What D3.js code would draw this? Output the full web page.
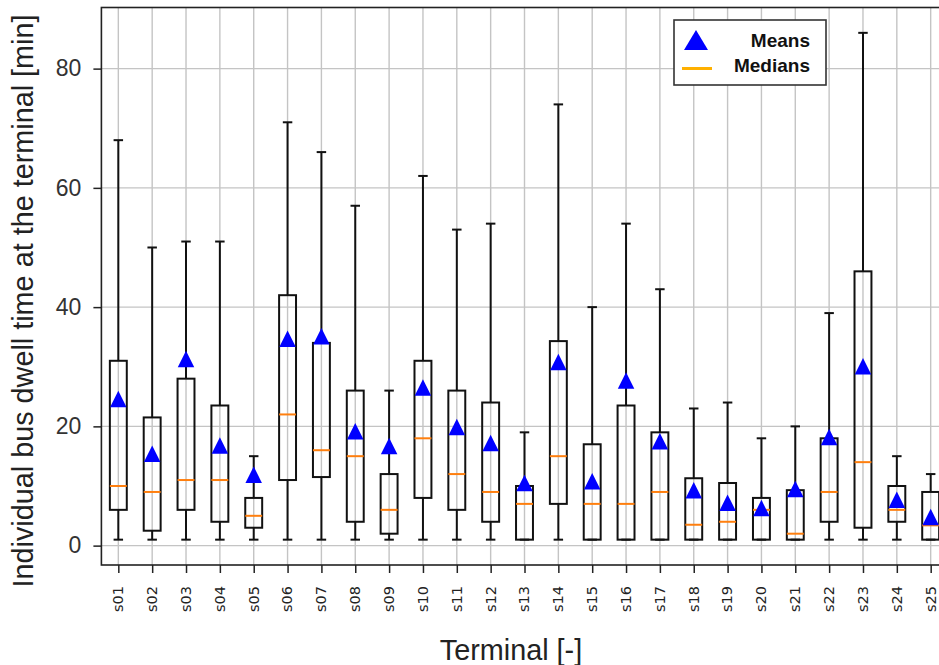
<!DOCTYPE html>
<html>
<head>
<meta charset="utf-8">
<script src="https://cdn.jsdelivr.net/npm/d3@7"></script>
<style>
  html, body { margin: 0; padding: 0; background: #fff; }
  svg { display: block; }
</style>
</head>
<body>
<div id="chart"></div>
<script>
const categories = ["s01","s02","s03","s04","s05","s06","s07","s08","s09","s10","s11","s12","s13","s14","s15","s16","s17","s18","s19","s20","s21","s22","s23","s24","s25"];
const whiskerLow  = [1,1,1,1,1,1,1,1,1,1,1,1,1,1,1,1,1,1,1,1,1,1,1,1,1];
const q1          = [6,2.5,6,4,3,11,11.5,4,2,8,6,4,1,7,1,1,1,1,1,1,1,4,3,4,1];
const medians     = [10,9,11,11,5,22,16,15,6,18,12,9,7,15,7,7,9,3.5,4,6,2,9,14,6,3.4];
const q3          = [31,21.5,28,23.5,8,42,34,26,12,31,26,24,10,34.3,17,23.5,19,11.3,10.5,8,9.3,18,46,10,9];
const whiskerHigh = [68,50,51,51,15,71,66,57,26,62,53,54,19,74,40,54,43,23,24,18,20,39,86,15,12];
const means       = [24.6,15.4,31.3,16.8,11.9,34.7,35.1,19.2,16.7,26.5,19.9,17.2,10.5,30.8,10.8,27.7,17.5,9.3,7.2,6.3,9.5,18.2,30.1,7.7,4.8];
const yTicks = [0,20,40,60,80];
const legendLabels = ["Means","Medians"];
const yLabel = "Individual bus dwell time at the terminal [min]";
const xLabel = "Terminal [-]";

(function () {
const W = 939, H = 665;
const pL = 101.4, pR = 947.6, pT = 7.5, pB = 565;

const svg = d3.select("#chart").append("svg").attr("width", W).attr("height", H);

const x = d3.scaleLinear().domain([0.5, categories.length + 0.5]).range([pL, pR]);
const y = d3.scaleLinear().domain([-3.25, 90.25]).range([pB, pT]);
const xPos = i => x(i + 1);
const dx = x(1) - x(0);

// grid
const grid = svg.append("g");
grid.selectAll("line.v").data(categories).join("line").attr("class", "v")
  .attr("x1", (d,i) => xPos(i)).attr("x2", (d,i) => xPos(i))
  .attr("y1", pT).attr("y2", pB)
  .attr("stroke", "#c4c4c4").attr("stroke-width", 1.4);
grid.selectAll("line.h").data(yTicks).join("line").attr("class", "h")
  .attr("x1", pL).attr("x2", pR)
  .attr("y1", d => y(d)).attr("y2", d => y(d))
  .attr("stroke", "#c4c4c4").attr("stroke-width", 1.4);

// axes
const yAxis = d3.axisLeft(y).tickValues(yTicks).tickSize(8).tickPadding(12);
const gy = svg.append("g").attr("transform", `translate(${pL},0)`).call(yAxis);
gy.select(".domain").remove();
gy.selectAll(".tick line").attr("stroke", "#222").attr("stroke-width", 1.5);
gy.selectAll(".tick text").attr("font-family", "Liberation Sans, Arial, sans-serif")
  .attr("font-size", 23).attr("fill", "#333");

const xAxis = d3.axisBottom(x).tickValues(d3.range(1, categories.length + 1))
  .tickFormat(d => categories[d - 1]).tickSize(8).tickPadding(0);
const gx = svg.append("g").attr("transform", `translate(0,${pB})`).call(xAxis);
gx.select(".domain").remove();
gx.selectAll(".tick line").attr("stroke", "#222").attr("stroke-width", 1.5);
gx.selectAll(".tick text")
  .attr("font-family", "DejaVu Sans, sans-serif").attr("font-size", 14.5).attr("fill", "#222")
  .attr("transform", "translate(0,21) rotate(-90)")
  .attr("text-anchor", "end").attr("dy", "0.3em").attr("y", 0).attr("x", 0);

// boxes
const boxes = svg.append("g");
const bw = 0.5 * dx, cw = 0.28 * dx;
categories.forEach((c, i) => {
  const cx = xPos(i);
  const g = boxes.append("g");
  g.append("line").attr("x1", cx).attr("x2", cx).attr("y1", y(whiskerLow[i])).attr("y2", y(q1[i]))
    .attr("stroke", "#111").attr("stroke-width", 2);
  g.append("line").attr("x1", cx).attr("x2", cx).attr("y1", y(q3[i])).attr("y2", y(whiskerHigh[i]))
    .attr("stroke", "#111").attr("stroke-width", 2);
  g.append("line").attr("x1", cx - cw/2).attr("x2", cx + cw/2).attr("y1", y(whiskerLow[i])).attr("y2", y(whiskerLow[i]))
    .attr("stroke", "#111").attr("stroke-width", 2);
  g.append("line").attr("x1", cx - cw/2).attr("x2", cx + cw/2).attr("y1", y(whiskerHigh[i])).attr("y2", y(whiskerHigh[i]))
    .attr("stroke", "#111").attr("stroke-width", 2);
  g.append("rect").attr("x", cx - bw/2).attr("width", bw)
    .attr("y", y(q3[i])).attr("height", y(q1[i]) - y(q3[i]))
    .attr("fill", "none").attr("stroke", "#111").attr("stroke-width", 2);
  g.append("line").attr("x1", cx - bw/2).attr("x2", cx + bw/2).attr("y1", y(medians[i])).attr("y2", y(medians[i]))
    .attr("stroke", "#ff7f0e").attr("stroke-width", 2);
});

// means
const tri = (s) => `M0,${-s/2}L${s/2},${s/2}L${-s/2},${s/2}Z`;
svg.append("g").selectAll("path").data(means).join("path")
  .attr("d", tri(16.5))
  .attr("transform", (d,i) => `translate(${xPos(i)},${y(d)})`)
  .attr("fill", "#0000ff");

// frame
svg.append("rect").attr("x", pL).attr("y", pT).attr("width", pR - pL).attr("height", pB - pT)
  .attr("fill", "none").attr("stroke", "#222").attr("stroke-width", 1.6);

// legend
const lg = svg.append("g");
lg.append("rect").attr("x", 674).attr("y", 20).attr("width", 152).attr("height", 65)
  .attr("fill", "#fff").attr("stroke", "#333").attr("stroke-width", 1.6);
lg.append("path").attr("d", `M0,-10L12,10L-12,10Z`).attr("transform", "translate(696,40)").attr("fill", "#0000ff");
lg.append("line").attr("x1", 682).attr("x2", 712).attr("y1", 68.5).attr("y2", 68.5)
  .attr("stroke", "#ffb000").attr("stroke-width", 3);
lg.selectAll("text").data(legendLabels).join("text")
  .attr("x", 810).attr("y", (d,i) => 46.5 + i * 25)
  .attr("text-anchor", "end")
  .attr("font-family", "Liberation Sans, Arial, sans-serif").attr("font-weight", "bold")
  .attr("font-size", 19).attr("fill", "#111").text(d => d);

// axis labels
svg.append("text").attr("transform", `translate(33,301) rotate(-90)`)
  .attr("text-anchor", "middle").attr("font-family", "Liberation Sans, Arial, sans-serif")
  .attr("font-size", 28.8).attr("fill", "#222").text(yLabel);
svg.append("text").attr("x", 511).attr("y", 660)
  .attr("text-anchor", "middle").attr("font-family", "Liberation Sans, Arial, sans-serif")
  .attr("font-size", 28.8).attr("fill", "#222").text(xLabel);
})();
</script>
</body>
</html>
